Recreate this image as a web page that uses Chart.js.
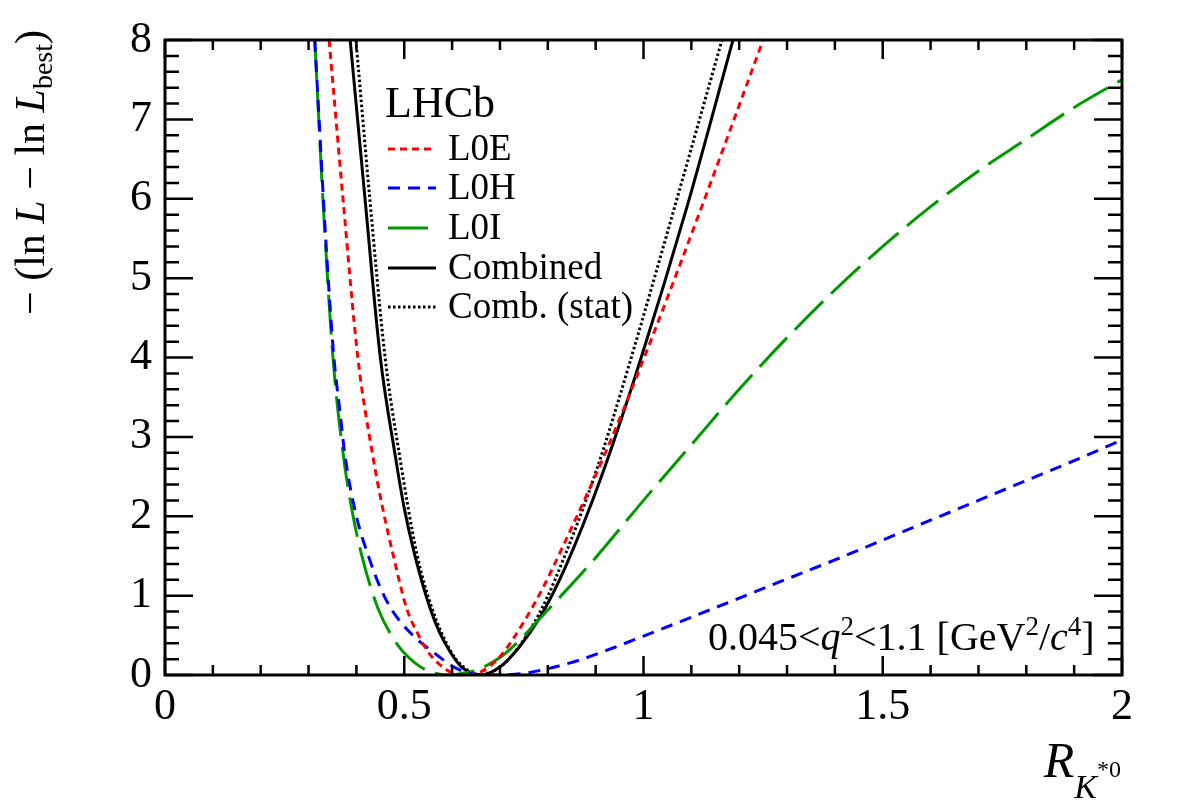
<!DOCTYPE html>
<html><head><meta charset="utf-8">
<script src="https://cdn.jsdelivr.net/npm/chart.js@4/dist/chart.umd.min.js"></script>
<style>html,body{margin:0;padding:0;background:#fff}canvas{display:block}</style>
</head><body>
<canvas id="c" width="1182" height="805"></canvas>
<script>
// ---- data ----
const xTicks = [0, 0.5, 1, 1.5, 2];
const yTicks = [0, 1, 2, 3, 4, 5, 6, 7, 8];

const l0eX = [0.343, 0.372, 0.403, 0.434, 0.455, 0.477, 0.505, 0.53, 0.55, 0.59, 0.62, 0.66, 0.70, 0.748, 0.79, 0.83, 0.924, 1.008, 1.128, 1.25];
const l0eY = [8.0, 6.0, 4.0, 2.77, 2.1, 1.51, 0.84, 0.5, 0.29, 0.06, 0.0, 0.04, 0.23, 0.65, 1.1, 1.6, 2.85, 4.1, 6.0, 8.0];

const l0hX = [0.313, 0.322, 0.331, 0.341, 0.353, 0.366, 0.376, 0.40, 0.428, 0.45, 0.474, 0.518, 0.56, 0.61, 0.65, 0.70, 0.75, 0.80, 0.867, 0.936, 1.0, 1.076, 1.18, 1.279, 1.4, 1.5, 1.6, 1.7, 1.8, 1.9, 2.0];
const l0hY = [8.0, 7.0, 6.0, 5.0, 4.0, 3.3, 2.77, 2.0, 1.45, 1.1, 0.82, 0.5, 0.29, 0.08, 0.01, 0.0, 0.02, 0.08, 0.19, 0.34, 0.49, 0.67, 0.92, 1.16, 1.45, 1.7, 1.95, 2.2, 2.45, 2.7, 2.96];

const l0iX = [0.313, 0.330, 0.351, 0.372, 0.390, 0.411, 0.445, 0.475, 0.498, 0.525, 0.55, 0.59, 0.62, 0.65, 0.70, 0.74, 0.78, 0.825, 0.903, 1.0, 1.1, 1.2, 1.3, 1.4, 1.5, 1.6, 1.7, 1.8, 1.9, 2.0];
const l0iY = [8.0, 6.0, 4.0, 2.8, 2.1, 1.51, 0.84, 0.48, 0.29, 0.14, 0.05, 0.0, 0.02, 0.06, 0.22, 0.43, 0.69, 0.98, 1.5, 2.2, 2.9, 3.6, 4.25, 4.85, 5.4, 5.9, 6.35, 6.75, 7.15, 7.5];

const combX = [0.387, 0.418, 0.450, 0.481, 0.50, 0.522, 0.554, 0.575, 0.596, 0.62, 0.66, 0.70, 0.74, 0.784, 0.836, 0.909, 0.99, 1.091, 1.187];
const combY = [8.0, 6.0, 4.0, 2.77, 2.1, 1.51, 0.84, 0.52, 0.29, 0.1, 0.0, 0.1, 0.35, 0.73, 1.35, 2.45, 3.9, 5.9, 8.0];

const statX = [0.399, 0.428, 0.460, 0.490, 0.527, 0.558, 0.598, 0.62, 0.66, 0.70, 0.74, 0.78, 0.815, 0.90, 0.972, 1.07, 1.164];
const statY = [8.0, 6.0, 4.0, 2.77, 1.51, 0.84, 0.29, 0.12, 0.0, 0.1, 0.36, 0.75, 1.2, 2.55, 3.95, 6.0, 8.0];

const seriesNames = ['L0E', 'L0H', 'L0I', 'Combined', 'Comb. (stat)'];

// ---- styling ----
const FONT = "'Liberation Serif', 'Times New Roman', serif";
const styles = [
  {color: '#ff0000', dash: [7, 5], width: 3},
  {color: '#0000ff', dash: [12, 8], width: 3},
  {color: '#009900', dash: [40, 11], width: 3},
  {color: '#000000', dash: [], width: 3},
  {color: '#000000', dash: [2.5, 2.5], width: 3}
];
const pairs = (xs, ys) => xs.map((x, i) => ({x: x, y: ys[i]}));
const seriesData = [pairs(l0eX, l0eY), pairs(l0hX, l0hY), pairs(l0iX, l0iY), pairs(combX, combY), pairs(statX, statY)];

function rich(ctx, parts, x, y, align) {
  let w = 0;
  const ws = parts.map(p => { ctx.font = (p[2] ? 'italic ' : '') + p[1] + 'px ' + FONT; const m = ctx.measureText(p[0]).width; w += m; return m; });
  let cx = align === 'right' ? x - w : x;
  parts.forEach((p, i) => {
    ctx.font = (p[2] ? 'italic ' : '') + p[1] + 'px ' + FONT;
    ctx.fillText(p[0], cx, y + (p[3] || 0));
    cx += ws[i];
  });
}

const decor = {
  id: 'decor',
  afterDraw(chart) {
    const {ctx, chartArea: a, scales: {x, y}} = chart;
    ctx.save();
    ctx.strokeStyle = '#000';
    ctx.fillStyle = '#000';
    // ticks (inward, all four sides)
    ctx.lineWidth = 2.5;
    ctx.beginPath();
    for (let i = 0; i <= 20; i++) {
      const px = x.getPixelForValue(i * 0.1);
      const L = i % 5 === 0 ? 19 : 10;
      ctx.moveTo(px, a.bottom); ctx.lineTo(px, a.bottom - L);
      ctx.moveTo(px, a.top); ctx.lineTo(px, a.top + L);
    }
    for (let i = 0; i <= 40; i++) {
      const py = y.getPixelForValue(i * 0.2);
      const L = i % 5 === 0 ? 28 : 14;
      ctx.moveTo(a.left, py); ctx.lineTo(a.left + L, py);
      ctx.moveTo(a.right, py); ctx.lineTo(a.right - L, py);
    }
    ctx.stroke();
    // frame
    ctx.lineWidth = 3;
    ctx.strokeRect(a.left, a.top, a.right - a.left, a.bottom - a.top);

    ctx.textBaseline = 'alphabetic';
    ctx.textAlign = 'left';
    // y title (rotated)
    ctx.save();
    ctx.translate(44, 30);
    ctx.rotate(-Math.PI / 2);
    rich(ctx, [['\u2212 (ln ', 42, false, 0], ['L', 42, true, 0], [' \u2212 ln ', 42, false, 0], ['L', 42, true, 0], ['best', 28, false, 8], [')', 42, false, 0]], 0, 0, 'right');
    ctx.restore();
    // x title
    rich(ctx, [['R', 50, true, 0], ['K', 34, true, 21], ['*0', 24, false, 0]], 1121, 777, 'right');
    // annotation
    rich(ctx, [['0.045<', 40, false, 0], ['q', 40, true, 0], ['2', 27, false, -15], ['<1.1 [GeV', 40, false, 0], ['2', 27, false, -15], ['/', 40, false, 0], ['c', 40, true, 0], ['4', 27, false, -15], [']', 40, false, 0]], 708, 650, 'left');
    // legend
    ctx.font = '44px ' + FONT;
    ctx.fillText('LHCb', 385, 117);
    const rows = [149, 188, 228, 268, 307];
    seriesNames.forEach((n, i) => {
      const s = styles[i];
      ctx.save();
      ctx.strokeStyle = s.color; ctx.lineWidth = s.width; ctx.setLineDash(s.dash);
      ctx.beginPath(); ctx.moveTo(388, rows[i]); ctx.lineTo(436, rows[i]); ctx.stroke();
      ctx.restore();
      ctx.font = '37px ' + FONT;
      ctx.textBaseline = 'middle';
      ctx.fillText(n, 448, rows[i] + 1);
      ctx.textBaseline = 'alphabetic';
    });
    ctx.restore();
  }
};

new Chart(document.getElementById('c'), {
  type: 'scatter',
  data: {
    datasets: seriesData.map((d, i) => ({
      label: seriesNames[i],
      data: d,
      showLine: true,
      pointRadius: 0,
      borderColor: styles[i].color,
      borderDash: styles[i].dash,
      borderWidth: styles[i].width,
      cubicInterpolationMode: 'monotone',
      fill: false
    }))
  },
  options: {
    responsive: false,
    animation: false,
    layout: {padding: {left: 0, top: 40, right: 60, bottom: 0}},
    plugins: {legend: {display: false}, tooltip: {enabled: false}},
    scales: {
      x: {
        type: 'linear', min: 0, max: 2,
        afterBuildTicks: s => { s.ticks = xTicks.map(v => ({value: v})); },
        grid: {display: false, drawTicks: false},
        border: {display: false},
        ticks: {font: {family: FONT, size: 44}, color: '#000', padding: 6, maxRotation: 0, autoSkip: false,
          callback: v => String(v)},
        afterFit: s => { s.height = 130; }
      },
      y: {
        type: 'linear', min: 0, max: 8,
        afterBuildTicks: s => { s.ticks = yTicks.map(v => ({value: v})); },
        grid: {display: false, drawTicks: false},
        border: {display: false},
        ticks: {font: {family: FONT, size: 44}, color: '#000', padding: 13, autoSkip: false,
          callback: v => String(v)},
        afterFit: s => { s.width = 165; }
      }
    }
  },
  plugins: [decor]
});
</script>
</body></html>
